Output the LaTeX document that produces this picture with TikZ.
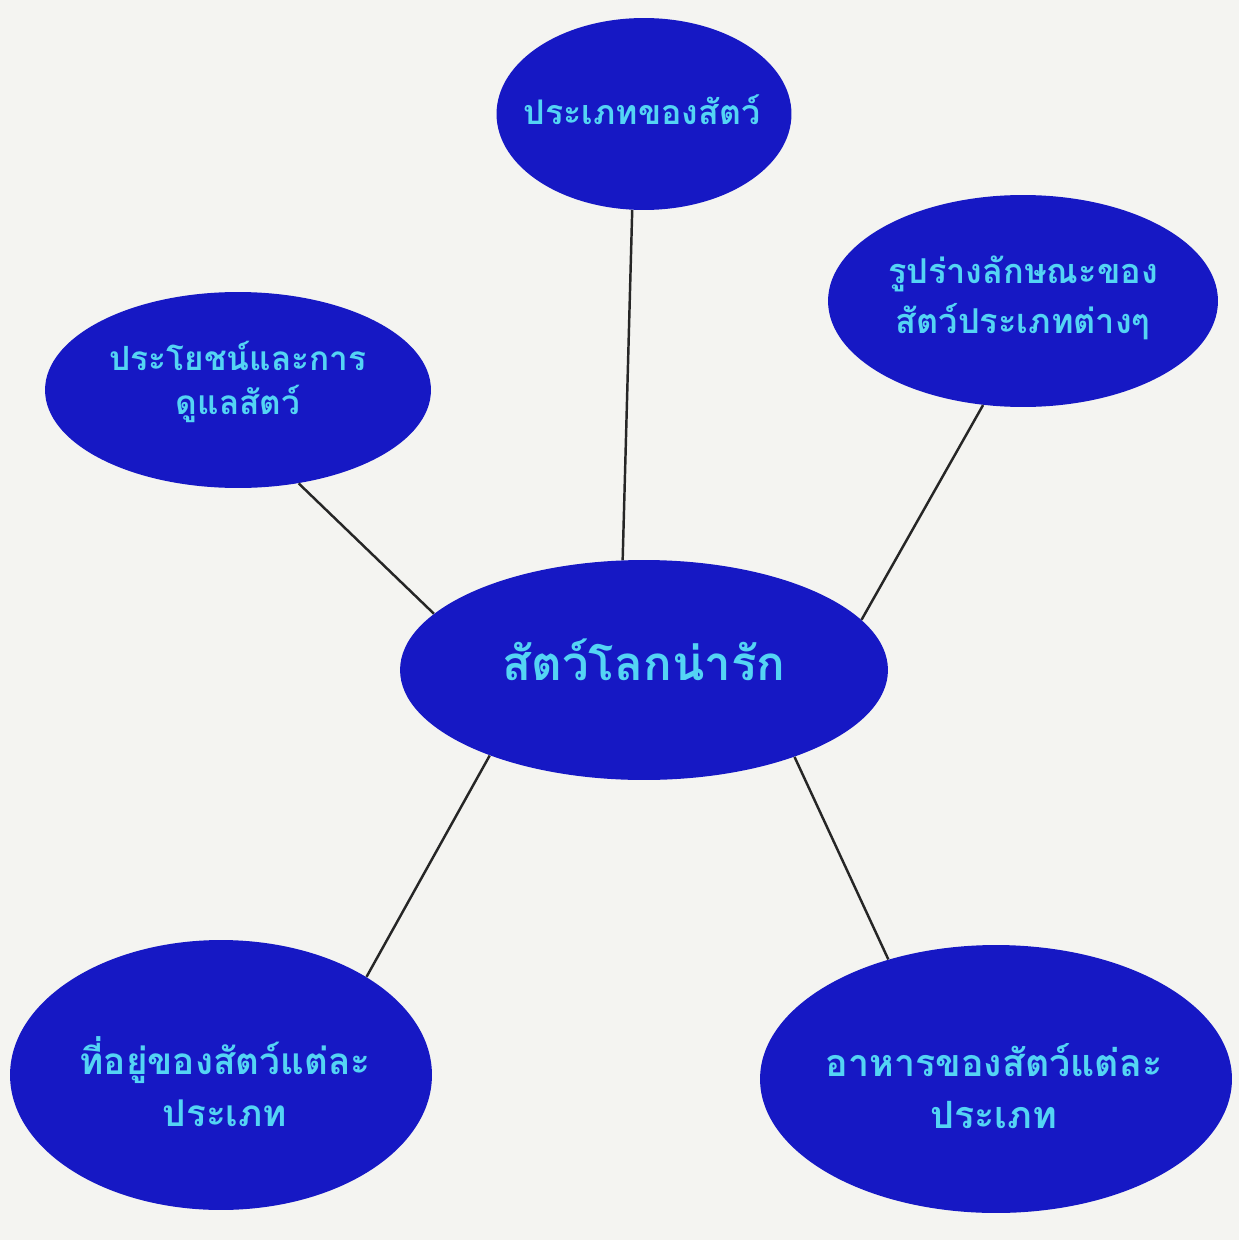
\documentclass[tikz,border=0pt]{standalone}
\usepackage{fontspec}
\newfontfamily\thaifont[Script=Thai]{Loma}
\usepackage{tikz}
\usetikzlibrary{shapes.geometric}
\definecolor{bubblue}{RGB}{22,24,196}
\definecolor{txtcyan}{RGB}{84,212,244}
\definecolor{paper}{RGB}{244,244,241}

\begin{document}
\begin{tikzpicture}[x=0.02cm,y=-0.02cm,
bub/.style={ellipse,fill=bubblue,draw=none,inner sep=0pt},
lbl/.style={text=txtcyan,font=\thaifont\bfseries,align=center,inner sep=0pt},
link/.style={line width=1.4pt,black!85}]
\fill[paper](0,0)rectangle(1239,1240);
\useasboundingbox(0,0)rectangle(1239,1240);
% bubbles
\node[bub,minimum width=9.76cm,minimum height=4.4cm](c)at(644,670){};
\node[bub,minimum width=5.9cm,minimum height=3.84cm](t)at(644,114){};
\node[bub,minimum width=7.8cm,minimum height=4.24cm](tr)at(1023,301){};
\node[bub,minimum width=7.72cm,minimum height=3.92cm](l)at(238,390){};
\node[bub,minimum width=8.44cm,minimum height=5.4cm](bl)at(221,1075){};
\node[bub,minimum width=9.44cm,minimum height=5.36cm](br)at(996,1079){};
% texts
\node[lbl,font=\thaifont\bfseries\fontsize{27}{32}\selectfont]at(644,660){สัตว์โลกน่ารัก};
\node[lbl,font=\thaifont\bfseries\fontsize{19.3}{22}\selectfont]at(642,110){ประเภทของสัตว์};
\node[lbl,font=\thaifont\bfseries\fontsize{19.5}{28.5}\selectfont]at(1023,298){รูปร่างลักษณะของ\\สัตว์ประเภทต่างๆ};
\node[lbl,font=\thaifont\bfseries\fontsize{19}{25.5}\selectfont]at(238,382){ประโยชน์และการ\\ดูแลสัตว์};
\node[lbl,font=\thaifont\bfseries\fontsize{21}{29.5}\selectfont]at(225,1082){ที่อยู่ของสัตว์แต่ละ\\ประเภท};
\node[lbl,font=\thaifont\bfseries\fontsize{21.4}{30}\selectfont]at(994,1086){อาหารของสัตว์แต่ละ\\ประเภท};
% links
\draw[link](c.101)--(t.-97);
\draw[link](c.13)--(tr.-111);
\draw[link](c.165.5)--(l.-57.7);
\draw[link](c.-151.5)--(bl.34);
\draw[link](c.-30.8)--(br.132.7);
\end{tikzpicture}
\end{document}
